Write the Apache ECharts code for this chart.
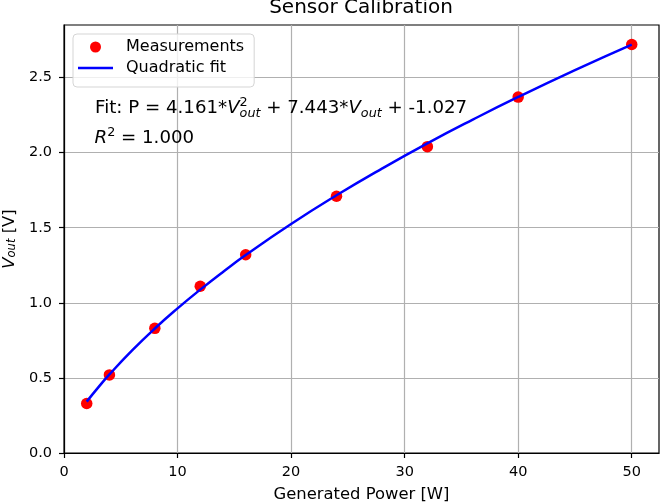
<!DOCTYPE html>
<html>
<head>
<meta charset="UTF-8">
<title>Sensor Calibration</title>
<script src="https://cdn.jsdelivr.net/npm/echarts@6/dist/echarts.min.js"></script>
<style>
  html, body { margin: 0; padding: 0; background: #fff; }
  #chart { width: 661px; height: 504px; }
</style>
</head>
<body>
<div id="chart"></div>
<script>
// measured points
var powerW = [2, 4, 8, 12, 16, 24, 32, 40, 50];
var voutMeas = [0.33, 0.52, 0.83, 1.11, 1.32, 1.71, 2.04, 2.37, 2.72];

// fitted curve
var fitP = [2, 3, 4, 6, 8, 10, 12, 14, 16, 20, 24, 28, 32, 36, 40, 45, 50];
var fitV = [0.342, 0.435, 0.523, 0.683, 0.829, 0.963, 1.088, 1.206, 1.318, 1.525, 1.716, 1.894, 2.062, 2.220, 2.371, 2.550, 2.720];

var xTicks = [0, 10, 20, 30, 40, 50];
var yTicks = [0, 0.5, 1.0, 1.5, 2.0, 2.5];

var FONT = '"DejaVu Sans", sans-serif';

function pairs(xs, ys) {
    return xs.map(function (x, i) { return [x, ys[i]]; });
}

// lay out a line of text with math-like sub/superscripts
var ctx = document.createElement('canvas').getContext('2d');
function fontStr(size, italic) {
    return (italic ? 'italic ' : '') + size + 'px "DejaVu Sans"';
}
function textW(t, size, italic) {
    ctx.font = fontStr(size, italic);
    return ctx.measureText(t).width;
}
function mathLine(pieces, x0, baseline, size) {
    var out = [];
    var x = x0;
    var small = size * 0.7;
    pieces.forEach(function (p) {
        if (p.t) {
            out.push(txt(p.t, x, baseline, size, p.i));
            x += textW(p.t, size, p.i);
        } else {
            var w = 0;
            if (p.sup) {
                out.push(txt(p.sup, x, baseline - size * 0.42, small, false));
                w = Math.max(w, textW(p.sup, small, false));
            }
            if (p.sub) {
                out.push(txt(p.sub, x, baseline + size * 0.2, small, true));
                w = Math.max(w, textW(p.sub, small, true));
            }
            x += w;
        }
    });
    return out;
}
function txt(t, x, baseline, size, italic) {
    return {
        type: 'text',
        x: x,
        y: baseline - size * 0.36,
        style: {
            text: t,
            fontFamily: 'DejaVu Sans',
            fontSize: size,
            fontStyle: italic ? 'italic' : 'normal',
            fill: '#000',
            verticalAlign: 'middle',
            align: 'left'
        },
        z: 100
    };
}

var annot = [].concat(
    mathLine([
        { t: 'Fit: P = 4.161*' }, { t: 'V', i: true }, { sup: '2', sub: 'out' },
        { t: ' + 7.443*' }, { t: 'V', i: true }, { sub: 'out' },
        { t: ' + -1.027' }
    ], 95, 115, 18.2),
    mathLine([
        { t: 'R', i: true }, { sup: '2' }, { t: ' = 1.000' }
    ], 94.5, 145, 18.2)
);

var chart = echarts.init(document.getElementById('chart'));

chart.setOption({
    animation: false,
    textStyle: { fontFamily: FONT },
    grid: {
        left: 64, right: 2, top: 25, bottom: 51,
        outerBoundsMode: 'none',
        containLabel: false,
        show: true, borderColor: '#000', borderWidth: 1.2,
        backgroundColor: 'transparent'
    },
    graphic: [{
        type: 'text',
        x: 361,
        y: 14.5 - 20 * 0.36,
        style: {
            text: 'Sensor Calibration',
            fontFamily: 'DejaVu Sans',
            fontSize: 20,
            fill: '#000',
            align: 'center',
            verticalAlign: 'middle'
        }
    }].concat(annot),
    legend: {
        left: 73,
        top: 34,
        orient: 'vertical',
        padding: [5, 10, 11, 5],
        itemGap: 5,
        itemWidth: 35,
        itemHeight: 11,
        backgroundColor: 'rgba(255,255,255,0.8)',
        borderColor: '#d5d5d5',
        borderWidth: 1,
        borderRadius: 4,
        textStyle: { fontFamily: FONT, fontSize: 16, color: '#000', padding: [0, 0, 0, 8] },
        data: [
            { name: 'Measurements', icon: 'circle' },
            { name: 'Quadratic fit', icon: 'path://M0,0L35,0L35,2.5L0,2.5Z' }
        ]
    },
    xAxis: {
        type: 'value',
        min: 0,
        max: 52.4,
        interval: 10,
        name: 'Generated Power [W]',
        nameLocation: 'middle',
        nameGap: 34,
        nameTextStyle: { fontFamily: FONT, fontSize: 16.4, color: '#000' },
        axisLine: { onZero: false, lineStyle: { color: '#000', width: 1.2 } },
        axisTick: { show: true, length: 5, lineStyle: { color: '#000', width: 1.2 }, customValues: xTicks },
        axisLabel: { fontFamily: FONT, fontSize: 14.5, color: '#000', margin: 12, customValues: xTicks,
            formatter: function (v) { return String(v); } },
        splitLine: { show: true, lineStyle: { color: '#b0b0b0', width: 1.2 } }
    },
    yAxis: {
        type: 'value',
        min: 0,
        max: 2.85,
        interval: 0.5,
        name: '{v|V}{s|out}{n| [V]}',
        nameLocation: 'middle',
        nameGap: 46,
        nameTextStyle: {
            fontFamily: FONT, fontSize: 16.4, color: '#000',
            rich: {
                v: { fontFamily: FONT, fontSize: 16.4, fontStyle: 'italic', color: '#000', lineHeight: 22, verticalAlign: 'bottom' },
                s: { fontFamily: FONT, fontSize: 11.5, fontStyle: 'italic', color: '#000', lineHeight: 14, verticalAlign: 'bottom' },
                n: { fontFamily: FONT, fontSize: 16.4, color: '#000', lineHeight: 22, verticalAlign: 'bottom' }
            }
        },
        axisLine: { onZero: false, lineStyle: { color: '#000', width: 1.2 } },
        axisTick: { show: true, length: 5, lineStyle: { color: '#000', width: 1.2 }, customValues: yTicks },
        axisLabel: { fontFamily: FONT, fontSize: 14.5, color: '#000', margin: 12, customValues: yTicks,
            formatter: function (v) { return v.toFixed(1); } },
        splitLine: { show: true, lineStyle: { color: '#b0b0b0', width: 1.2 } }
    },
    series: [
        {
            name: 'Measurements',
            type: 'scatter',
            data: pairs(powerW, voutMeas),
            symbol: 'circle',
            symbolSize: 11.5,
            itemStyle: { color: '#ff0000', opacity: 1 },
            z: 2
        },
        {
            name: 'Quadratic fit',
            type: 'line',
            data: pairs(fitP, fitV),
            smooth: true,
            symbol: 'none',
            lineStyle: { color: '#0000ff', width: 2.5 },
            itemStyle: { color: '#0000ff' },
            z: 3
        }
    ]
});
</script>
</body>
</html>
